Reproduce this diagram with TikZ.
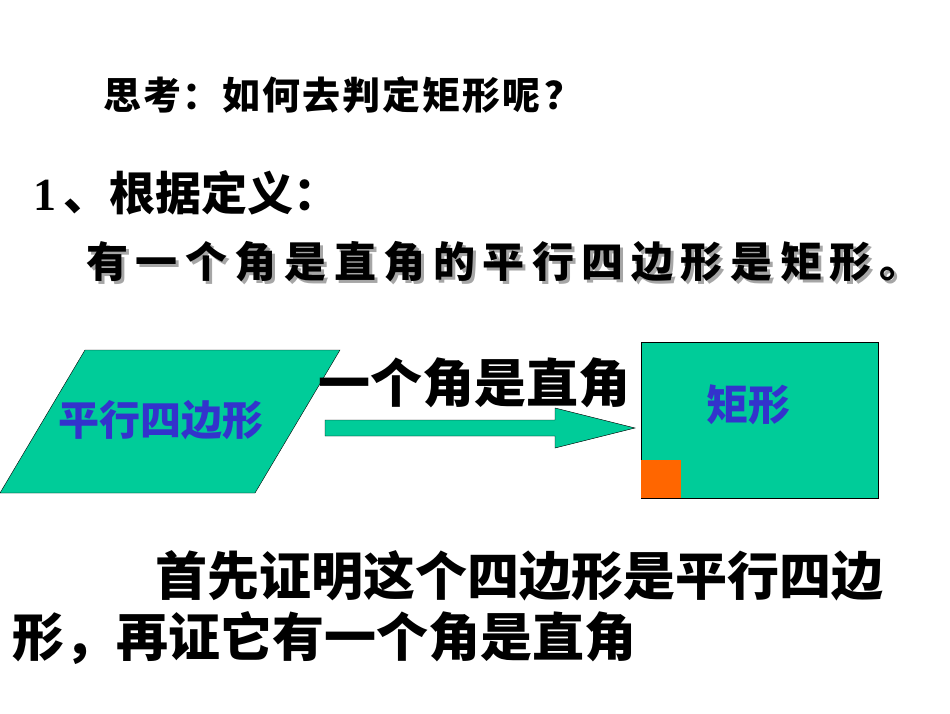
\documentclass[tikz,border=0pt]{standalone}
\usepackage{fontspec}
\newfontfamily\cjk{Noto Sans CJK SC}
\setmainfont{Liberation Serif}
\definecolor{tealg}{HTML}{00CC99}
\definecolor{blu}{HTML}{3333CC}
\definecolor{org}{HTML}{FF6600}
\tikzset{txt/.style={anchor=west,inner sep=0pt,font=\cjk\bfseries}}
\begin{document}
\begin{tikzpicture}[x=1pt,y=-1pt]
\useasboundingbox[fill=white] (0,0) rectangle (950,713);
\node[txt,font=\cjk\bfseries\fontsize{38}{42}\selectfont\addfontfeature{LetterSpace=5}] (t) at (103,95) {思考：如何去判定矩形呢\kern4pt？};
\node[txt,font=\bfseries\fontsize{46}{50}\selectfont] (h) at (33,193) {1\,\cjk 、根据定义：};
\node[txt,text=gray!70,font=\cjk\bfseries\fontsize{42}{46}\selectfont\addfontfeature{LetterSpace=18}] (ds) at (89,265) {有一个角是直角的平行四边形是矩形。};
\node[txt,font=\cjk\bfseries\fontsize{42}{46}\selectfont\addfontfeature{LetterSpace=18}] (d) at (86,262) {有一个角是直角的平行四边形是矩形。};
\draw[fill=tealg] (85,350) -- (340,350) -- (255,493) -- (0,493) -- cycle;
\node[txt,text=blu,font=\cjk\bfseries\fontsize{41}{44}\selectfont] (p) at (58,420) {平行四边形};
\draw[fill=tealg] (325,420) -- (555,420) -- (555,408) -- (635,428) -- (555,448) -- (555,436) -- (325,436) -- cycle;
\node[txt,font=\cjk\bfseries\fontsize{52}{56}\selectfont] (l) at (318,383) {一个角是直角};
\draw[fill=tealg] (641,342) rectangle (878,498);
\fill[org] (641,460) rectangle (681,498);
\node[txt,text=blu,font=\cjk\bfseries\fontsize{42}{46}\selectfont] (r) at (706,405) {矩形};
\node[txt,font=\cjk\bfseries\fontsize{52}{56}\selectfont] (b1) at (155,576) {首先证明这个四边形是平行四边};
\node[txt,font=\cjk\bfseries\fontsize{52}{56}\selectfont] (b2) at (12,638) {形，再证它有一个角是直角};
\end{tikzpicture}
\end{document}
